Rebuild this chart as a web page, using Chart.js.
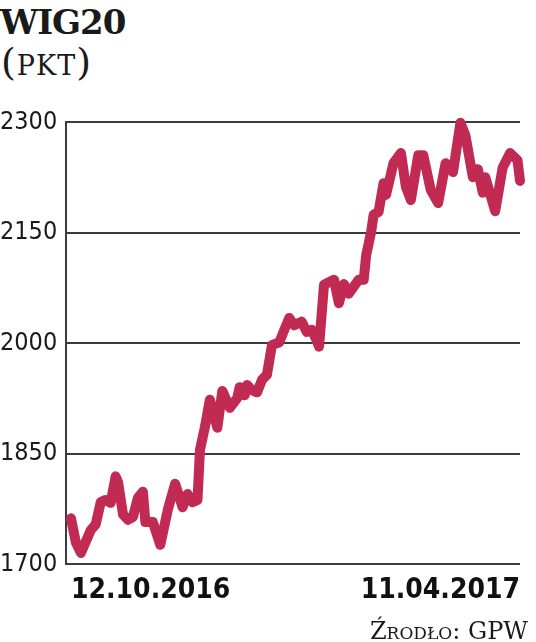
<!DOCTYPE html>
<html>
<head>
<meta charset="utf-8">
<script src="https://cdn.jsdelivr.net/npm/chart.js@4"></script>
<style>
  body { margin: 0; background: #fff; }
  #wrap { position: relative; width: 536px; height: 642px; overflow: hidden; }
  #myChart { position: absolute; left: 0; top: 0; }
  .title { position: absolute; left: 0; top: 2px; font: bold 34px "DejaVu Serif", serif; color: #1a1a1a; letter-spacing: -1px; }
  .unit { position: absolute; left: 1px; top: 40px; font: 38px "DejaVu Serif", serif; font-variant: small-caps; color: #1a1a1a; letter-spacing: 1px; }
  .source { position: absolute; right: 8px; top: 617px; font: 24px "DejaVu Serif", serif; font-variant: small-caps; color: #1a1a1a; }
</style>
</head>
<body>
<div id="wrap">
  <div class="title">WIG20</div>
  <div class="unit">(pkt)</div>
  <canvas id="myChart" width="536" height="642"></canvas>
  <div class="source">Źrodło: GPW</div>
</div>
<script>
// data (days after 12.10.2016, index points)
let days = [0, 2, 4, 8, 10, 12, 14, 16, 18, 19, 21, 23, 25, 27, 29, 30, 33, 36, 39, 42,
  45, 47, 49, 51, 52, 54, 56, 59, 61, 64, 67, 68, 70, 71, 73, 75, 77, 79, 81, 84,
  86, 88, 90, 93, 95, 97, 99, 100, 102, 106, 108, 110, 112, 116, 118, 119, 121, 122, 124, 126,
  127, 130, 133, 135, 137, 140, 142, 145, 148, 151, 154, 157, 159, 162, 164, 166, 167, 171, 174, 177,
  180, 181];
let wig = [1762, 1729, 1715, 1746, 1754, 1784, 1787, 1783, 1819, 1811, 1767, 1760, 1764, 1790, 1798, 1757, 1757, 1726, 1773, 1809,
  1777, 1795, 1784, 1787, 1855, 1886, 1923, 1885, 1935, 1912, 1925, 1940, 1929, 1943, 1936, 1933, 1950, 1957, 1997, 2001,
  2018, 2034, 2024, 2029, 2015, 2018, 2004, 1995, 2079, 2086, 2054, 2080, 2067, 2086, 2086, 2119, 2151, 2174, 2178, 2217,
  2201, 2244, 2258, 2212, 2194, 2255, 2255, 2208, 2190, 2244, 2232, 2299, 2282, 2225, 2236, 2204, 2225, 2179, 2238, 2258,
  2248, 2220];
let dateLabels = ["12.10.2016", "11.04.2017"];
let dateTicks = [0, 181];
let yTicks = [1700, 1850, 2000, 2150, 2300];

let lineColor = "#c12a53";
let gridColor = "#3c3c3c";
let narrow = '"Liberation Sans Narrow", "DejaVu Sans Condensed", sans-serif';

let points = days.map(function (d, i) { return { x: d, y: wig[i] }; });

let chart = new Chart(document.getElementById("myChart"), {
  type: "line",
  data: {
    datasets: [{
      data: points,
      borderColor: lineColor,
      borderWidth: 10,
      pointRadius: 0,
      tension: 0,
      borderJoinStyle: "round",
      borderCapStyle: "round",
      clip: false
    }]
  },
  options: {
    responsive: false,
    animation: false,
    devicePixelRatio: 1,
    layout: { padding: { top: 122, left: 0, right: 16, bottom: 0 } },
    plugins: { legend: { display: false }, tooltip: { enabled: false } },
    scales: {
      x: {
        type: "linear",
        min: -2,
        max: 181,
        afterBuildTicks: function (s) { s.ticks = dateTicks.map(function (v) { return { value: v }; }); },
        afterFit: function (s) { s.height = 78; },
        ticks: {
          align: "inner",
          autoSkip: false,
          maxRotation: 0,
          padding: 2,
          color: "#111",
          font: { family: narrow, size: 28, weight: "bold" },
          callback: function (v, i) { return dateLabels[i]; }
        },
        grid: { display: false },
        border: { display: false }
      },
      y: {
        min: 1700,
        max: 2300,
        afterBuildTicks: function (s) { s.ticks = yTicks.map(function (v) { return { value: v }; }); },
        afterFit: function (s) { s.width = 66; },
        ticks: {
          crossAlign: "far",
          color: "#1a1a1a",
          font: { family: narrow, size: 25 },
          callback: function (v) { return String(v); }
        },
        grid: { color: gridColor, lineWidth: 2, drawTicks: false },
        border: { display: true, color: gridColor, width: 2 }
      }
    }
  }
});
</script>
</body>
</html>
